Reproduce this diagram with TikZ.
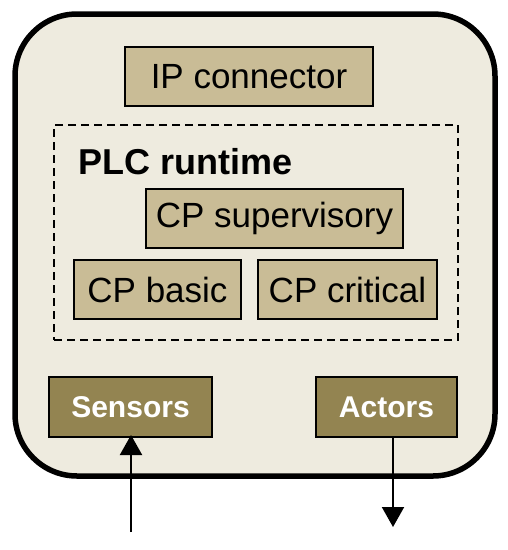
\documentclass[tikz,border=0pt]{standalone}
\usepackage{fontspec}
\setmainfont{Liberation Sans}
\usepackage{tikz}
\usetikzlibrary{positioning}
\usetikzlibrary{arrows.meta}

\definecolor{shell}{HTML}{EEEBDF}
\definecolor{tan}{HTML}{C9BC96}
\definecolor{olive}{HTML}{938451}

\tikzset{
    comp/.style={draw=black, line width=2pt, fill=tan, inner sep=0pt,
        minimum height=59pt, font=\fontsize{35}{35}\selectfont},
    io/.style={draw=black, line width=2pt, fill=olive, inner sep=0pt,
        minimum height=60pt, text=white, font=\fontsize{30}{30}\selectfont\bfseries},
    flow/.style={line width=2pt, -{Triangle[width=22pt,length=20pt]}},
}

\begin{document}
\begin{tikzpicture}[x=1pt, y=-1pt]
            \useasboundingbox (0,0) rectangle (508,550);
            \node [draw=black, line width=5.5pt, fill=shell, rounded corners=62pt,
                minimum width=480pt, minimum height=462pt] (device) at (255,245) {};
            \node [comp, minimum width=248pt] (ip) at (249,76.5) {IP connector};
            \node [draw=black, line width=1.8pt, dash pattern=on 8pt off 5pt,
                minimum width=404pt, minimum height=215pt] (plc) at (256,232.5) {};
            \node [anchor=west, inner sep=0pt, font=\fontsize{36}{36}\selectfont\bfseries] (plclabel) at (78,162) {PLC runtime};
            \node [comp, minimum width=257pt] (super) at (274.5,218) {CP supervisory};
            \node [comp, minimum width=167pt] (basic) at (157.5,289.5) {CP basic};
            \node [comp, minimum width=179pt] (critical) at (347.5,289.5) {CP critical};
            \node [io, minimum width=163pt] (sensors) at (130.5,407) {Sensors};
            \node [io, minimum width=141pt] (actors) at (386.5,407) {Actors};
            \coordinate (sensorsin) at (131,532);
            \coordinate (actorsout) at (393,527);
            \draw [flow] (sensorsin) -- ([yshift=3pt]sensorsin |- sensors.south);
            \draw [flow] (actorsout |- actors.south) -- (actorsout);
        \end{tikzpicture}
\end{document}
